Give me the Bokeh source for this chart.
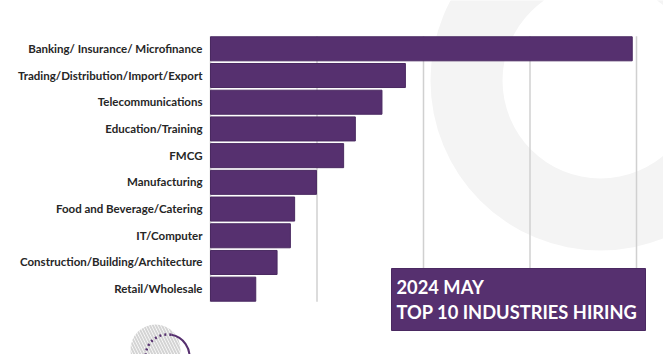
from bokeh.plotting import figure
from bokeh.models import Range1d
from bokeh.core.properties import value
from bokeh.embed import file_html
from bokeh.resources import INLINE

# ---------------- data ----------------
industries = [
    "Banking/ Insurance/ Microfinance",
    "Trading/Distribution/Import/Export",
    "Telecommunications",
    "Education/Training",
    "FMCG",
    "Manufacturing",
    "Food and Beverage/Catering",
    "IT/Computer",
    "Construction/Building/Architecture",
    "Retail/Wholesale",
]
hiring_index = [396, 183, 161, 136, 125, 99.5, 79, 75, 62.5, 42.5]
grid_ticks = [0, 100, 200, 300, 400]
title_lines = ["2024 MAY", "TOP 10 INDUSTRIES HIRING"]

# ---------------- layout helpers ----------------
W, H = 663, 354
X0_PX, PX_PER_X = 210.0, 1.065
Y0_PX, PX_PER_ROW = 48.3, 26.71


def px_x(px):
    return (px - X0_PX) / PX_PER_X


def px_y(py):
    return (py - Y0_PX) / PX_PER_ROW


rows = list(range(len(industries)))
PURPLE = "#56306f"

p = figure(width=W, height=H, output_backend="svg", toolbar_location=None,
           x_range=Range1d(px_x(0), px_x(W)),
           y_range=Range1d(px_y(H), px_y(0)),
           min_border=0, x_axis_location=None, y_axis_location=None)
p.outline_line_color = None
p.grid.visible = False
p.background_fill_color = "white"
p.border_fill_color = "white"

# background decoration: light grey ring
p.annulus(x=[px_x(600)], y=[px_y(80)], inner_radius=98, outer_radius=170,
          inner_radius_units="screen", outer_radius_units="screen",
          fill_color="#f4f4f4", line_color=None)

# bottom-left decoration
p.circle(x=[px_x(155)], y=[px_y(349)], radius=25, radius_units="screen",
         fill_alpha=0, line_alpha=0, hatch_pattern="\\", hatch_color="#d4d4d4",
         hatch_scale=6, hatch_weight=2)
p.arc(x=[px_x(167)], y=[px_y(356)], radius=22, radius_units="screen",
      start_angle=1.4, end_angle=3.3, line_color=PURPLE, line_width=2.5,
      line_dash="2 3")
p.arc(x=[px_x(167)], y=[px_y(356)], radius=22, radius_units="screen",
      start_angle=-0.2, end_angle=1.4, line_color=PURPLE, line_width=2)

# vertical grid lines
n = len(grid_ticks)
p.segment(x0=grid_ticks, y0=[-0.47] * n, x1=grid_ticks, y1=[9.47] * n,
          line_color="#d0d0d0", line_width=1.5)

# bars
p.hbar(y=rows, left=[0] * len(rows), right=hiring_index, height=0.9,
       fill_color=PURPLE, line_color="#4a2961", line_width=1)

# category labels
p.text(x=[0] * len(rows), y=rows, text=industries, x_offset=-8, y_offset=-0.5,
       text_align="right", text_baseline="middle",
       text_font=value("Lato"), text_font_style="bold",
       text_font_size="11.5px", text_color="#262626")

# title box
p.quad(left=[px_x(391)], right=[px_x(645)], top=[px_y(268)], bottom=[px_y(330)],
       fill_color=PURPLE, line_color="#4a2961")
p.text(x=[px_x(396)] * 2, y=[px_y(286.5), px_y(311.5)], text=title_lines,
       text_align="left", text_baseline="middle", text_font=value("Lato"),
       text_font_style="bold", text_font_size="18.3px", text_color="white")

open("out.html", "w").write(file_html(p, INLINE))
